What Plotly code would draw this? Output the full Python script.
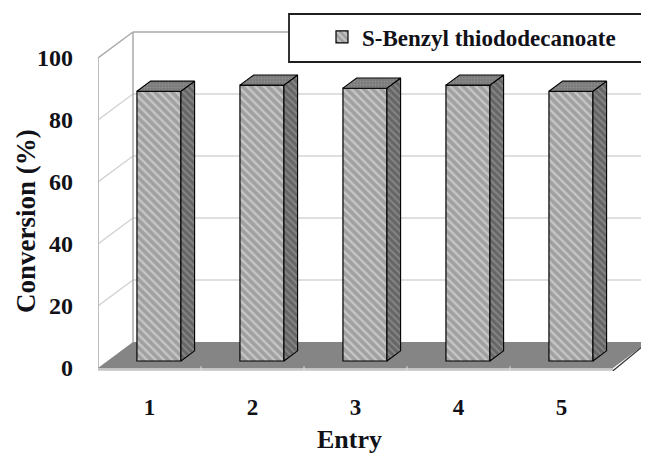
import plotly.graph_objects as go

# ---------------- data ----------------
categories = ["1", "2", "3", "4", "5"]
conversion = [87, 89, 88, 89, 87]
y_ticks = [0, 20, 40, 60, 80, 100]
series_name = "S-Benzyl thiododecanoate"
x_title = "Entry"
y_title = "Conversion (%)"

# ---------------- geometry (pseudo-3D projection) ----------------
PAGE_OFF = 8            # default body margin of the html page
W, H = 649 - PAGE_OFF, 453 - PAGE_OFF
ML, MR, MT, MB = 98 - PAGE_OFF, 0, 14 - PAGE_OFF, 81
PX_CAT = 103.0          # pixels per category on the front plane
PX_UNIT = 3.1           # pixels per % on the front plane
FLOOR_PX = 4            # floor front edge above the plot bottom
DEPTH_PX = (35.0, 26.0) # oblique depth offset in pixels
plot_w = W - ML - MR
plot_h = H - MT - MB
x_range = [0.5, 0.5 + plot_w / PX_CAT]
y_min = -FLOOR_PX / PX_UNIT
y_range = [y_min, y_min + plot_h / PX_UNIT]
DX = DEPTH_PX[0] / PX_CAT
DY = DEPTH_PX[1] / PX_UNIT
BAR_W = 44 / PX_CAT     # bar width in category units
BAR_F = 0.27            # front face depth fraction
BAR_D = 0.39            # bar depth fraction
xpos = list(range(1, len(categories) + 1))
x_left, x_right = 0.5, len(categories) + 0.5
ymax = y_ticks[-1]

FONT = "Liberation Serif"
TXT = "#111118"

def px_to_paper_x(px):  # px in reference-image pixels
    return (px - PAGE_OFF - ML) / plot_w

def px_to_paper_y(py):
    return (H - MB - (py - PAGE_OFF)) / plot_h

fig = go.Figure()

# front faces (library bars)
sx, sy = BAR_F * DX, BAR_F * DY
fig.add_trace(go.Bar(
    x=xpos, y=conversion, base=[sy] * len(xpos), width=BAR_W,
    offset=-BAR_W / 2 + sx, name=series_name,
    marker=dict(color="#a4a4a4", line=dict(color="#000000", width=1.2),
                pattern=dict(shape="\\", bgcolor="#a0a0a0", fgcolor="#ececec",
                             size=6, solidity=0.4)),
    hoverinfo="skip"))

# side and top faces derived from the same values
for c, v in zip(xpos, conversion):
    xl = c - BAR_W / 2 + sx
    xr = c + BAR_W / 2 + sx
    y0 = sy
    y1 = sy + v
    ddx, ddy = BAR_D * DX, BAR_D * DY
    fig.add_trace(go.Scatter(
        x=[xr, xr + ddx, xr + ddx, xr, xr],
        y=[y0, y0 + ddy, y1 + ddy, y1, y0],
        mode="lines", fill="toself", fillcolor="#6c6c6c",
        fillpattern=dict(shape="\\", bgcolor="#666666", fgcolor="#a8a8a8", size=5, solidity=0.35),
        line=dict(color="#000000", width=1.1), showlegend=False, hoverinfo="skip"))
    fig.add_trace(go.Scatter(
        x=[xl, xr, xr + ddx, xl + ddx, xl],
        y=[y1, y1, y1 + ddy, y1 + ddy, y1],
        mode="lines", fill="toself", fillcolor="#7e7e7e",
        fillpattern=dict(shape=".", bgcolor="#787878", fgcolor="#a6a6a6", size=3, solidity=0.4),
        line=dict(color="#000000", width=1.1), showlegend=False, hoverinfo="skip"))

shapes = []
GRID = "#d4d4d4"
EDGE = "#aaaaaa"
# back-wall and side-wall gridlines
for t in y_ticks[1:]:
    shapes.append(dict(type="line", xref="x", yref="y", layer="below",
                       x0=x_left + DX, y0=t + DY, x1=x_right + DX, y1=t + DY,
                       line=dict(color=GRID if t < ymax else EDGE, width=1.5)))
    shapes.append(dict(type="line", xref="x", yref="y", layer="below",
                       x0=x_left, y0=t, x1=x_left + DX, y1=t + DY,
                       line=dict(color=GRID if t < ymax else EDGE, width=1.5)))
# wall edges
shapes.append(dict(type="line", xref="x", yref="y", layer="below",
                   x0=x_left, y0=0, x1=x_left, y1=ymax, line=dict(color=EDGE, width=1.5)))
shapes.append(dict(type="line", xref="x", yref="y", layer="below",
                   x0=x_left + DX, y0=DY, x1=x_left + DX, y1=ymax + DY, line=dict(color=EDGE, width=1.5)))
shapes.append(dict(type="line", xref="x", yref="y", layer="below",
                   x0=x_right + DX, y0=DY, x1=x_right + DX, y1=ymax + DY, line=dict(color=EDGE, width=1.5)))
# floor
shapes.append(dict(type="path", xref="x", yref="y", layer="below",
                   path=f"M{x_left},0 L{x_right},0 L{x_right + DX},{DY} L{x_left + DX},{DY} Z",
                   fillcolor="#858585", line=dict(width=0)))
shapes.append(dict(type="rect", xref="x", yref="y", layer="below",
                   x0=x_left, y0=-0.9, x1=x_right, y1=0,
                   fillcolor="#c4c4c4", line=dict(width=0)))
shapes.append(dict(type="line", xref="x", yref="y", layer="below",
                   x0=x_right, y0=-0.9, x1=x_right + DX, y1=DY,
                   line=dict(color="#333333", width=1.3)))
for b in [c + 0.5 for c in xpos[:-1]]:
    shapes.append(dict(type="line", xref="x", yref="y", layer="below",
                       x0=b, y0=-1.0, x1=b, y1=0.6, line=dict(color="#dddddd", width=1)))
# legend box
shapes.append(dict(type="rect", xref="paper", yref="paper", layer="above",
                   x0=px_to_paper_x(289), y0=px_to_paper_y(62),
                   x1=px_to_paper_x(651), y1=px_to_paper_y(14),
                   fillcolor="#ffffff", line=dict(color="#1e1e1e", width=1.8)))

annotations = [
    dict(text=x_title, xref="paper", yref="paper", x=px_to_paper_x(349), y=px_to_paper_y(440),
         xanchor="center", yanchor="middle", showarrow=False,
         font=dict(family=FONT, size=26, color=TXT, weight="bold")),
    dict(text=y_title, xref="paper", yref="paper", x=px_to_paper_x(26), y=px_to_paper_y(221),
         xanchor="center", yanchor="middle", showarrow=False, textangle=-90,
         font=dict(family=FONT, size=27, color=TXT, weight="bold")),
]

fig.update_layout(
    width=W, height=H,
    margin=dict(l=ML, r=MR, t=MT, b=MB, autoexpand=False),
    paper_bgcolor="#ffffff", plot_bgcolor="#ffffff",
    font=dict(family=FONT, color=TXT),
    shapes=shapes, annotations=annotations,
    showlegend=True,
    legend=dict(x=px_to_paper_x(322), xanchor="left", y=px_to_paper_y(37), yanchor="middle",
                bgcolor="rgba(0,0,0,0)", borderwidth=0,
                font=dict(family=FONT, size=23, color=TXT, weight="bold")),
    xaxis=dict(range=x_range, tickvals=xpos, ticktext=categories,
               showgrid=False, zeroline=False, showline=False, ticks="",
               ticklabelstandoff=19, fixedrange=True,
               tickfont=dict(family=FONT, size=23, color=TXT, weight="bold")),
    yaxis=dict(range=y_range, tickvals=y_ticks, ticktext=[str(t) for t in y_ticks],
               showgrid=False, zeroline=False, showline=False, ticks="",
               ticklabelstandoff=24, fixedrange=True,
               tickfont=dict(family=FONT, size=24, color=TXT, weight="bold")),
)

fig.write_html("out.html")
